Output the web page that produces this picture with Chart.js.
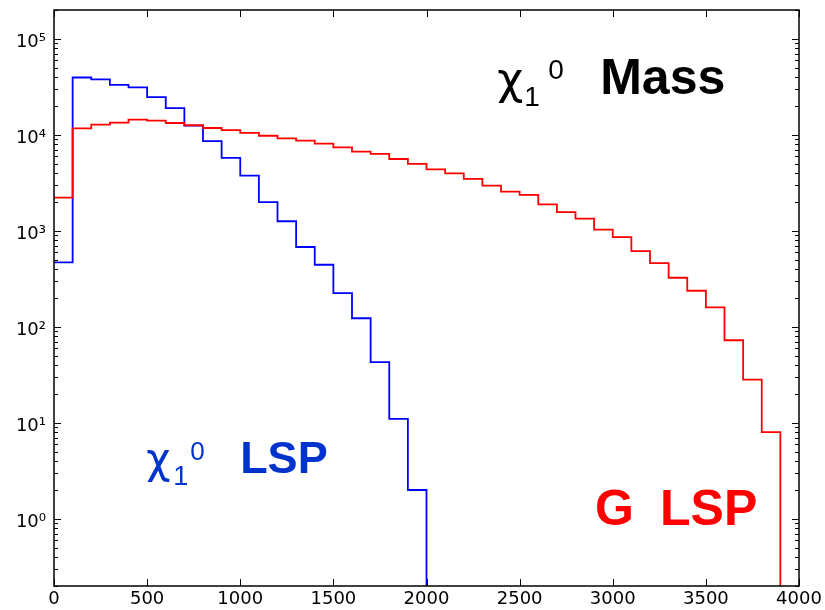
<!DOCTYPE html>
<html>
<head>
<meta charset="utf-8">
<script src="https://cdn.jsdelivr.net/npm/chart.js@4.4.1/dist/chart.umd.min.js"></script>
<style>
  html, body { margin: 0; padding: 0; background: #fff; }
  #wrap { width: 825px; height: 610px; }
</style>
</head>
<body>
<div id="wrap"><canvas id="chart"></canvas></div>
<script>
// ─── Data ─────────────────────────────────────────────────────────────────────
// histogram bin edges (GeV), 40 bins of 100
const binEdges = [
  0, 100, 200, 300, 400, 500, 600, 700, 800, 900,
  1000, 1100, 1200, 1300, 1400, 1500, 1600, 1700, 1800, 1900,
  2000, 2100, 2200, 2300, 2400, 2500, 2600, 2700, 2800, 2900,
  3000, 3100, 3200, 3300, 3400, 3500, 3600, 3700, 3800, 3900, 4000
];

// counts per bin — neutralino LSP (blue)
const chiLsp = [
  470, 39600, 37800, 33200, 31200, 24800, 19000, 12500, 8600, 5760,
  3770, 1990, 1260, 680, 444, 225, 123, 43, 11, 2,
  0, 0, 0, 0, 0, 0, 0, 0, 0, 0,
  0, 0, 0, 0, 0, 0, 0, 0, 0, 0
];

// counts per bin — gravitino LSP (red)
const gLsp = [
  2225, 11700, 12800, 13400, 14400, 14100, 13300, 12600, 11800, 11200,
  10500, 9800, 9200, 8700, 8100, 7430, 6690, 6330, 5610, 4980,
  4380, 3980, 3480, 2960, 2570, 2370, 1890, 1570, 1340, 1030,
  860, 615, 461, 325, 238, 160, 72.6, 28.3, 8, 0
];

const xTicks   = [0, 500, 1000, 1500, 2000, 2500, 3000, 3500, 4000];
const yDecades = [1, 10, 100, 1000, 10000, 100000];
const yMin = 0.2, yMax = 2e5;

// ─── Helpers ──────────────────────────────────────────────────────────────────
const SUP = { "0": "⁰", "1": "¹", "2": "²", "3": "³", "4": "⁴", "5": "⁵", "-": "⁻" };
const decadeLabel = v => "10" + String(Math.round(Math.log10(v))).split("").map(c => SUP[c]).join("");

// step outline: value of bin i holds from edge i to edge i+1; empty bins fall off the axis
function stepPoints(vals) {
  return binEdges.map((x, i) => ({ x, y: vals[Math.min(i, vals.length - 1)] || 1e-3 }));
}

// log minor ticks 2..9 per decade inside [yMin, yMax]
function logTicks() {
  const out = [];
  [0.1, ...yDecades].forEach(d => {
    for (let k = 1; k <= 9; k++) {
      const v = +(d * k).toPrecision(3);
      if (v >= yMin && v <= yMax) out.push(v);
    }
  });
  return out;
}

// ─── Plugins ──────────────────────────────────────────────────────────────────
// axes box with inward ticks on all four sides
const frame = {
  id: "frame",
  afterDraw(chart) {
    const { ctx, chartArea: a, scales: { x, y } } = chart;
    ctx.save();
    ctx.strokeStyle = "#000";
    ctx.lineWidth = 1.5;
    ctx.strokeRect(a.left, a.top, a.right - a.left, a.bottom - a.top);
    ctx.lineWidth = 1;
    ctx.beginPath();
    y.ticks.forEach(t => {
      const py = Math.round(y.getPixelForValue(t.value)) + 0.5;
      const len = yDecades.includes(t.value) ? 7 : 4;
      ctx.moveTo(a.left, py);  ctx.lineTo(a.left + len, py);
      ctx.moveTo(a.right, py); ctx.lineTo(a.right - len, py);
    });
    x.ticks.forEach(t => {
      const px = Math.round(x.getPixelForValue(t.value)) + 0.5;
      ctx.moveTo(px, a.bottom); ctx.lineTo(px, a.bottom - 7);
      ctx.moveTo(px, a.top);    ctx.lineTo(px, a.top + 7);
    });
    ctx.stroke();
    ctx.restore();
  }
};

// text labels inside the plot, anchored in data coordinates
const SANS = "'Liberation Sans', Arial, sans-serif";
const GREEK = "'DejaVu Sans', sans-serif";
const notes = [
  { x: 2385, y: 26800, color: "#000", parts: [
    { t: "χ", dx: -1, dy: 0, size: 45, font: GREEK },
    { t: "1", dx: 26, dy: 12, size: 28 },
    { t: "0", dx: 50, dy: -15, size: 28 },
    { t: "Mass", dx: 102, dy: 0, size: 50, bold: true }
  ]},
  { x: 500, y: 3.0, color: "#0033cc", parts: [
    { t: "χ", dx: -1, dy: 0, size: 42, font: GREEK },
    { t: "1", dx: 26, dy: 12, size: 27 },
    { t: "0", dx: 43, dy: -13, size: 26 },
    { t: "LSP", dx: 93, dy: 0, size: 45, bold: true }
  ]},
  { x: 2905, y: 0.87, color: "#ff0000", parts: [
    { t: "G", dx: 0, dy: 0, size: 50, bold: true },
    { t: "LSP", dx: 65, dy: 0, size: 50, bold: true }
  ]}
];

const annotate = {
  id: "annotate",
  afterDraw(chart) {
    const { ctx, scales: { x, y } } = chart;
    ctx.save();
    ctx.textBaseline = "alphabetic";
    ctx.textAlign = "left";
    notes.forEach(n => {
      const px = x.getPixelForValue(n.x), py = y.getPixelForValue(n.y);
      ctx.fillStyle = n.color;
      n.parts.forEach(p => {
        ctx.font = (p.bold ? "bold " : "") + p.size + "px " + (p.font || SANS);
        ctx.fillText(p.t, px + p.dx, py + p.dy);
      });
    });
    ctx.restore();
  }
};

// ─── Chart ────────────────────────────────────────────────────────────────────
const tickFont = { family: "'DejaVu Sans', sans-serif", size: 18 };

new Chart(document.getElementById("chart"), {
  type: "line",
  data: {
    datasets: [
      {
        label: "G LSP",
        data: stepPoints(gLsp),
        borderColor: "#ff0000",
        borderWidth: 1.8,
        pointRadius: 0,
        stepped: true,
        fill: false
      },
      {
        label: "χ1 LSP",
        data: stepPoints(chiLsp),
        borderColor: "#0000ff",
        borderWidth: 1.8,
        pointRadius: 0,
        stepped: true,
        fill: false
      }
    ]
  },
  options: {
    responsive: true,
    maintainAspectRatio: false,
    animation: false,
    parsing: false,
    layout: { padding: { top: 10, right: 26, left: 0, bottom: 0 } },
    plugins: { legend: { display: false }, tooltip: { enabled: false } },
    scales: {
      x: {
        type: "linear",
        min: 0,
        max: 4000,
        border: { display: false },
        grid: { display: false, drawTicks: false },
        afterBuildTicks: s => { s.ticks = xTicks.map(v => ({ value: v })); },
        afterFit: s => { s.height = 24; },
        ticks: { color: "#000", font: tickFont, padding: 3, maxRotation: 0, autoSkip: false,
                 callback: v => String(v) }
      },
      y: {
        type: "logarithmic",
        min: yMin,
        max: yMax,
        border: { display: false },
        grid: { display: false, drawTicks: false },
        afterBuildTicks: s => { s.ticks = logTicks().map(v => ({ value: v })); },
        afterFit: s => { s.width = 54; s.paddingTop = 0; s.paddingBottom = 0; },
        ticks: { color: "#000", font: tickFont, padding: 8, labelOffset: 3, autoSkip: false,
                 callback: v => yDecades.includes(v) ? decadeLabel(v) : "" }
      }
    }
  },
  plugins: [frame, annotate]
});
</script>
</body>
</html>
